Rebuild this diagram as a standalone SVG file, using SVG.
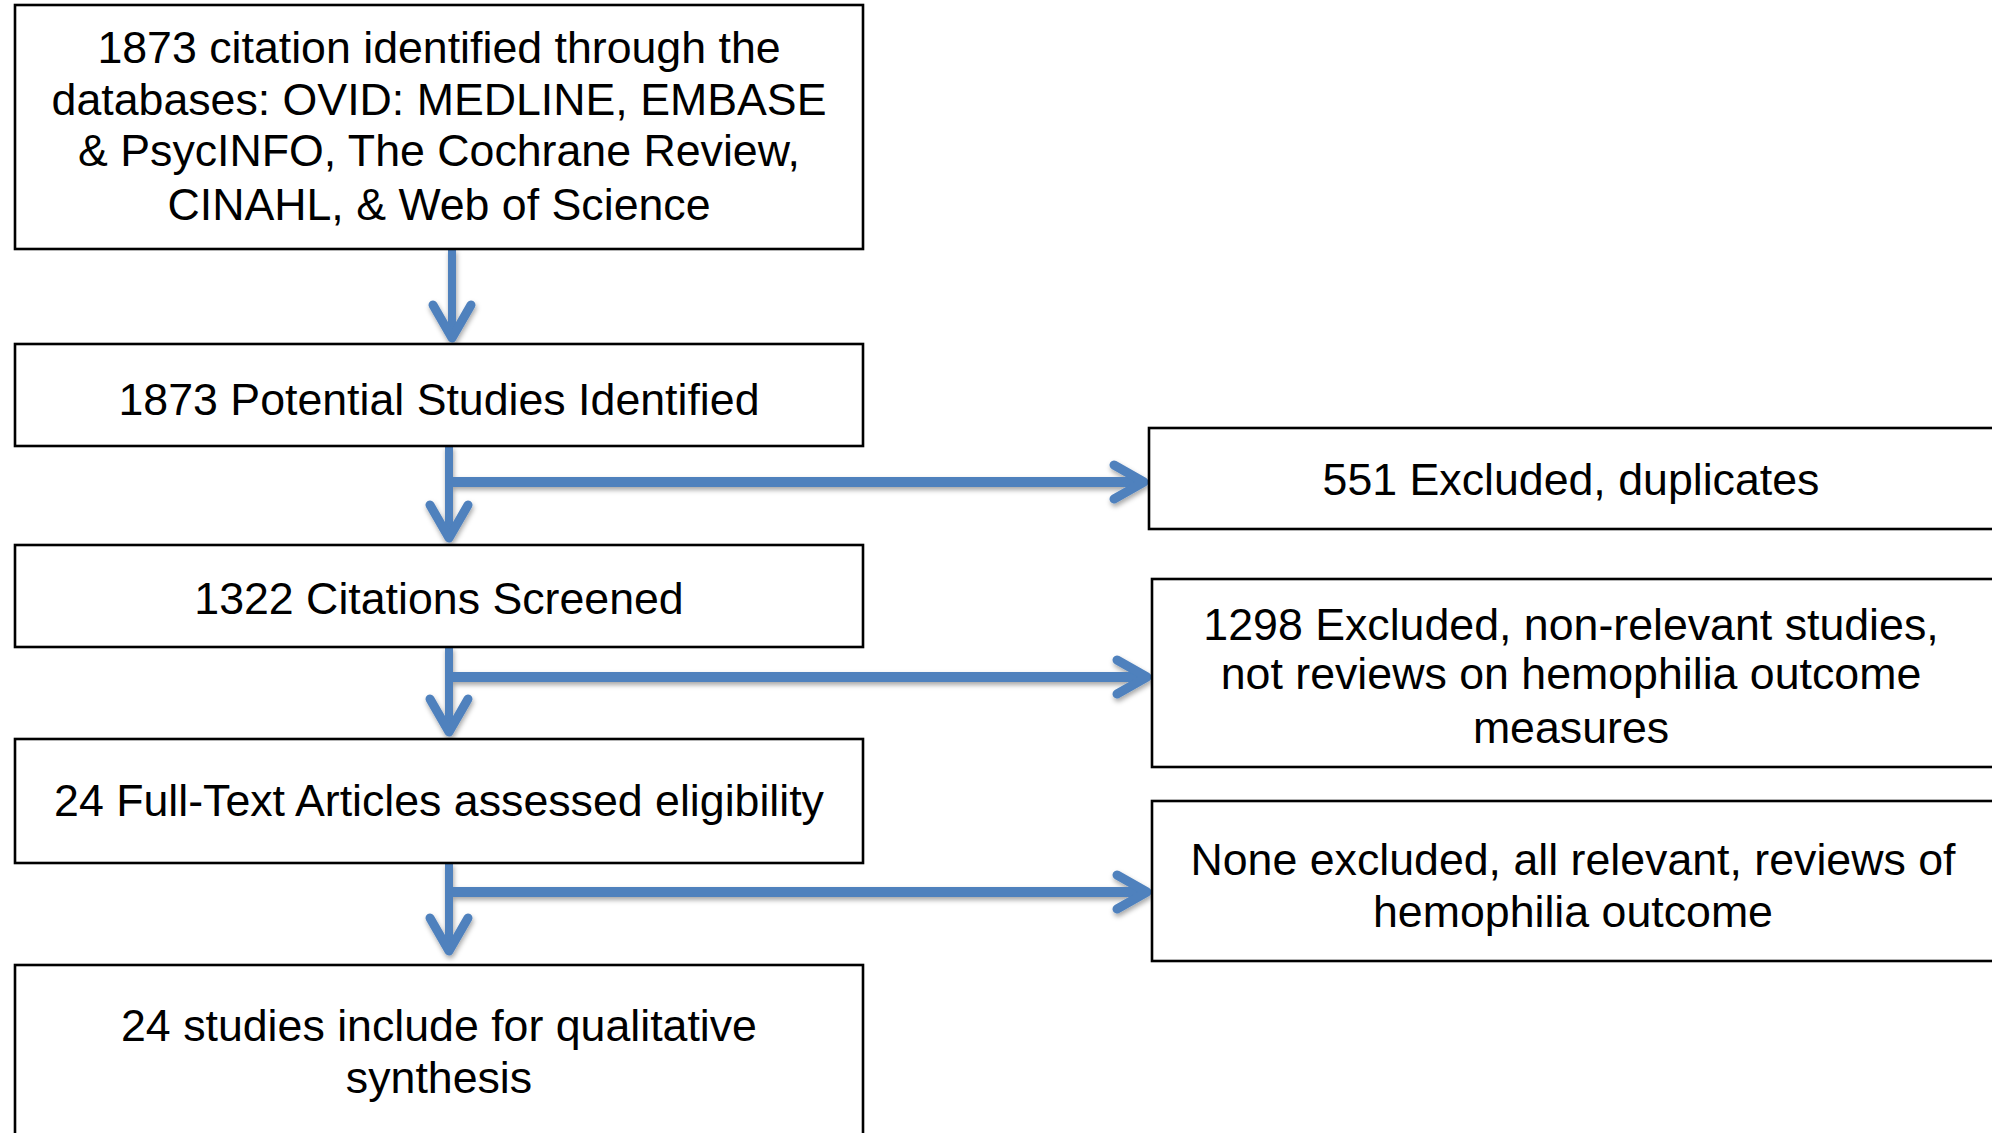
<svg xmlns="http://www.w3.org/2000/svg" width="1992" height="1133" viewBox="0 0 1992 1133">
<style>
  .box { fill: #ffffff; stroke: #000000; stroke-width: 2.6; }
  .t { font-family: "Liberation Sans", Arial, sans-serif; font-size: 44.7px; fill: #000000; text-anchor: middle; }
  .shaft { fill: none; stroke: #4f81bd; stroke-width: 8; }
  .hshaft { fill: none; stroke: #4f81bd; stroke-width: 10; }
  .head { fill: none; stroke: #4f81bd; stroke-width: 9; stroke-linecap: round; stroke-linejoin: round; }
</style>
<defs>
  <filter id="sh" x="-10%" y="-50%" width="120%" height="200%">
    <feDropShadow dx="1" dy="3" stdDeviation="2.5" flood-color="#000000" flood-opacity="0.35"/>
  </filter>
</defs>
<rect width="1992" height="1133" fill="#ffffff"/>

<g id="connectors" filter="url(#sh)">
  <g id="c1">
    <line class="shaft" x1="452" y1="249" x2="452" y2="334"/>
    <path class="head" d="M433,305 L452,338 L471,305"/>
  </g>
  <g id="c2">
    <line class="shaft" x1="449" y1="446" x2="449" y2="534"/>
    <path class="head" d="M430,505 L449,538 L468,505"/>
    <line class="hshaft" x1="449" y1="482" x2="1140" y2="482"/>
    <path class="head" d="M1114,465 L1144,482 L1114,499"/>
  </g>
  <g id="c3">
    <line class="shaft" x1="449" y1="647" x2="449" y2="728"/>
    <path class="head" d="M430,699 L449,732 L468,699"/>
    <line class="hshaft" x1="449" y1="677" x2="1143" y2="677"/>
    <path class="head" d="M1117,660 L1147,677 L1117,694"/>
  </g>
  <g id="c4">
    <line class="shaft" x1="449" y1="863" x2="449" y2="947"/>
    <path class="head" d="M430,918 L449,951 L468,918"/>
    <line class="hshaft" x1="449" y1="892" x2="1143" y2="892"/>
    <path class="head" d="M1117,875 L1147,892 L1117,909"/>
  </g>
</g>

<g id="n1">
  <rect class="box" x="15" y="5" width="848" height="244"/>
  <text class="t" x="439" y="63">1873 citation identified through the</text>
  <text class="t" x="439" y="115">databases: OVID: MEDLINE, EMBASE</text>
  <text class="t" x="439" y="166">&amp; PsycINFO, The Cochrane Review,</text>
  <text class="t" x="439" y="220">CINAHL, &amp; Web of Science</text>
</g>
<g id="n2">
  <rect class="box" x="15" y="344" width="848" height="102"/>
  <text class="t" x="439" y="415">1873 Potential Studies Identified</text>
</g>
<g id="n3">
  <rect class="box" x="15" y="545" width="848" height="102"/>
  <text class="t" x="439" y="614">1322 Citations Screened</text>
</g>
<g id="n4">
  <rect class="box" x="15" y="739" width="848" height="124"/>
  <text class="t" x="439" y="816">24 Full-Text Articles assessed eligibility</text>
</g>
<g id="n5">
  <rect class="box" x="15" y="965" width="848" height="200"/>
  <text class="t" x="439" y="1041">24 studies include for qualitative</text>
  <text class="t" x="439" y="1093">synthesis</text>
</g>
<g id="r1">
  <rect class="box" x="1149" y="428" width="860" height="101"/>
  <text class="t" x="1571" y="495">551 Excluded, duplicates</text>
</g>
<g id="r2">
  <rect class="box" x="1152" y="579" width="860" height="188"/>
  <text class="t" x="1571" y="640">1298 Excluded, non-relevant studies,</text>
  <text class="t" x="1571" y="689">not reviews on hemophilia outcome</text>
  <text class="t" x="1571" y="743">measures</text>
</g>
<g id="r3">
  <rect class="box" x="1152" y="801" width="860" height="160"/>
  <text class="t" x="1573" y="875">None excluded, all relevant, reviews of</text>
  <text class="t" x="1573" y="927">hemophilia outcome</text>
</g>
</svg>
